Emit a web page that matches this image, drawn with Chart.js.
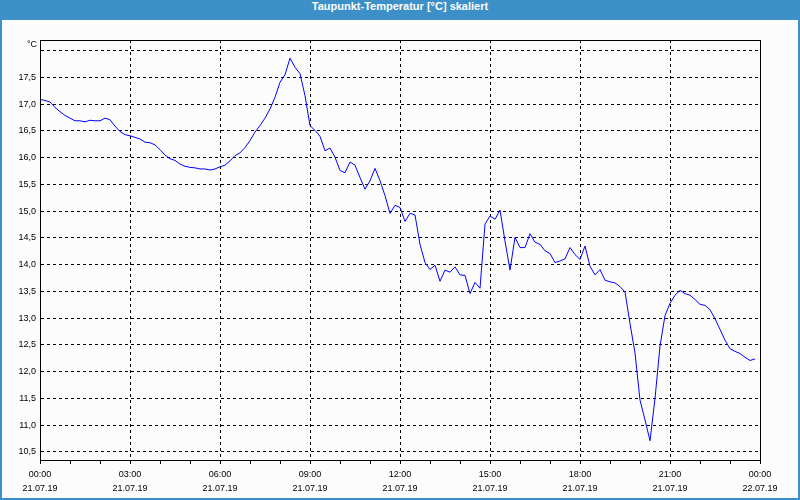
<!DOCTYPE html>
<html>
<head>
<meta charset="utf-8">
<script src="https://cdn.jsdelivr.net/npm/chart.js@4/dist/chart.umd.min.js"></script>
<style>
  html, body { margin: 0; padding: 0; }
  #wrap { position: relative; width: 800px; height: 500px; background: #3d8fc7; overflow: hidden; }
  #inner { position: absolute; left: 2px; right: 2px; top: 20px; bottom: 2px; background: #fbfcfb; }
  #title { position: absolute; left: 0; top: 0; width: 800px; height: 20px; line-height: 20px; text-align: center;
           color: #ffffff; font: bold 11px "Liberation Sans", Arial, sans-serif; }
  #c { position: absolute; left: 0; top: 0; }
</style>
</head>
<body>
<div id="wrap">
  <div id="inner"></div>
  <div id="title">Taupunkt-Temperatur [°C] skaliert</div>
  <canvas id="c" width="800" height="500"></canvas>
</div>
<script>
// Dew point readings, one every 10 minutes from 21.07.19 00:00 (°C)
const dewPoint = [
  17.09, 17.07, 17.04, 16.94, 16.86, 16.79, 16.74, 16.69, 16.69, 16.67, 16.70, 16.69,
  16.69, 16.74, 16.71, 16.59, 16.49, 16.43, 16.41, 16.38, 16.35, 16.29, 16.28, 16.24,
  16.15, 16.05, 15.98, 15.95, 15.88, 15.84, 15.82, 15.81, 15.79, 15.79, 15.77, 15.79,
  15.83, 15.86, 15.94, 16.04, 16.09, 16.19, 16.32, 16.48, 16.60, 16.74, 16.91, 17.13,
  17.41, 17.55, 17.86, 17.69, 17.57, 17.16, 16.60, 16.51, 16.40, 16.13, 16.18, 16.01,
  15.76, 15.72, 15.92, 15.86, 15.63, 15.41, 15.57, 15.80, 15.57, 15.29, 14.96, 15.11,
  15.07, 14.81, 14.96, 14.93, 14.38, 14.04, 13.91, 13.99, 13.69, 13.90, 13.86, 13.96,
  13.81, 13.80, 13.46, 13.67, 13.56, 14.76, 14.91, 14.85, 15.02, 14.44, 13.90, 14.51,
  14.32, 14.32, 14.58, 14.42, 14.38, 14.26, 14.21, 14.04, 14.07, 14.11, 14.32, 14.19,
  14.10, 14.35, 13.97, 13.81, 13.91, 13.71, 13.68, 13.66, 13.59, 13.49, 12.90, 12.35,
  11.47, 11.10, 10.71, 11.50, 12.48, 13.05, 13.28, 13.43, 13.52, 13.46, 13.43, 13.35,
  13.26, 13.24, 13.16, 12.99, 12.79, 12.59, 12.43, 12.38, 12.34, 12.27, 12.21, 12.24
];
const sampleStepHours = 10 / 60;

// Axis tick labels
const timeLabels = ['00:00', '03:00', '06:00', '09:00', '12:00', '15:00', '18:00', '21:00', '00:00'];
const dateLabels = ['21.07.19', '21.07.19', '21.07.19', '21.07.19', '21.07.19', '21.07.19', '21.07.19', '21.07.19', '22.07.19'];
const hourTicks = [0,1,2,3,4,5,6,7,8,9,10,11,12,13,14,15,16,17,18,19,20,21,22,23,24];
const yTicks = [10.5, 11.0, 11.5, 12.0, 12.5, 13.0, 13.5, 14.0, 14.5, 15.0, 15.5, 16.0, 16.5, 17.0, 17.5, 18.0];
const yUnit = '°C';

const points = dewPoint.map((v, i) => ({ x: i * sampleStepHours, y: v }));
const tickFont = { family: '"Liberation Sans", Arial, sans-serif', size: 9, lineHeight: 1.6 };

const framePlugin = {
  id: 'frame',
  afterDraw(chart) {
    const { ctx, chartArea: a } = chart;
    ctx.save();
    ctx.strokeStyle = '#000';
    ctx.lineWidth = 1;
    ctx.setLineDash([]);
    ctx.strokeRect(Math.round(a.left) + 0.5, Math.round(a.top) + 0.5,
                   Math.round(a.right - a.left), Math.round(a.bottom - a.top));
    ctx.fillStyle = '#000';
    ctx.font = '9px "Liberation Sans", Arial, sans-serif';
    ctx.textAlign = 'right';
    ctx.textBaseline = 'middle';
    ctx.fillText(yUnit, a.left - 3, a.top + 5);
    ctx.restore();
  }
};

new Chart(document.getElementById('c'), {
  type: 'line',
  data: {
    datasets: [{
      data: points,
      borderColor: '#0000ff',
      borderWidth: 1,
      pointRadius: 0,
      tension: 0,
      fill: false
    }]
  },
  options: {
    responsive: false,
    animation: false,
    layout: { padding: { left: 2, top: 40, right: 40, bottom: 0 } },
    plugins: { legend: { display: false }, tooltip: { enabled: false }, title: { display: false } },
    scales: {
      x: {
        type: 'linear',
        min: 0,
        max: 24,
        afterBuildTicks: (axis) => { axis.ticks = hourTicks.map(v => ({ value: v })); },
        afterFit: (axis) => { axis.height = 40; },
        grid: {
          color: (ctx) => (ctx.tick && ctx.tick.value % 3 === 0) ? '#000' : 'rgba(0,0,0,0)',
          lineWidth: 1,
          drawTicks: true,
          tickLength: 4,
          tickColor: '#000',
          tickBorderDash: []
        },
        border: { display: true, color: '#000', width: 1, dash: [3, 3] },
        ticks: {
          autoSkip: false,
          maxRotation: 0,
          padding: 3,
          color: '#000',
          font: tickFont,
          callback: (v) => (v % 3 === 0) ? [timeLabels[v / 3], dateLabels[v / 3]] : ''
        }
      },
      y: {
        type: 'linear',
        min: 10.35,
        max: 18.2,
        afterBuildTicks: (axis) => { axis.ticks = yTicks.map(v => ({ value: v })); },
        afterFit: (axis) => { axis.width = 38; },
        grid: { color: '#000', lineWidth: 1, drawTicks: false },
        border: { display: true, color: '#000', width: 1, dash: [3, 3] },
        ticks: {
          padding: 4,
          color: '#000',
          font: { family: '"Liberation Sans", Arial, sans-serif', size: 9 },
          callback: (v) => v >= 18 ? '' : v.toFixed(1).replace('.', ',')
        }
      }
    }
  },
  plugins: [framePlugin]
});
</script>
</body>
</html>
